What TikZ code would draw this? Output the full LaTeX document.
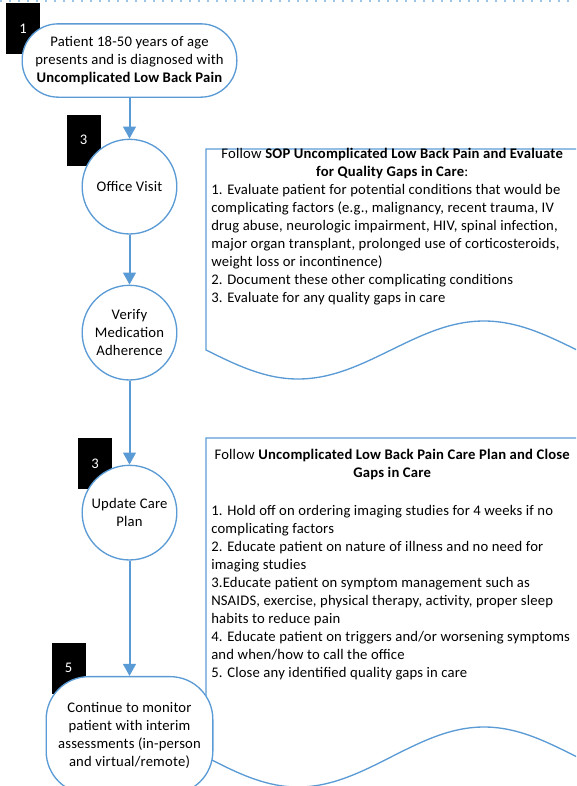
\documentclass[tikz,border=0pt]{standalone}
\usepackage{fontspec}
\setmainfont{Carlito}[LetterSpace=1.3]
\usepackage{tikz}
\usetikzlibrary{positioning,arrows.meta}
\definecolor{m_line}{HTML}{5B9BD5}
\definecolor{m_lane}{HTML}{9DC3E6}

\begin{document}
\begin{tikzpicture}[
    x=0.75pt, y=-0.75pt,
    font=\fontsize{11}{13.5}\selectfont,
    startend/.style={draw=m_line,line width=1pt,fill=white,rounded corners=27pt,
        minimum width=161pt,minimum height=55pt,align=center,inner sep=2pt},
    process/.style={circle,draw=m_line,line width=1pt,fill=white,
        minimum size=71pt,inner sep=0pt,align=center},
    monitor/.style={draw=m_line,line width=1pt,fill=white,rounded corners=32pt,
        minimum width=125pt,minimum height=88pt,align=center,inner sep=2pt},
    tag/.style={fill=black,text=white,minimum width=25.5pt,minimum height=38.25pt,inner sep=0pt},
    note/.style={align=left,inner sep=0pt,anchor=north west},
    docline/.style={draw=m_line,line width=1pt},
    flow/.style={draw=m_line,line width=1.5pt,-{Triangle[length=9pt,width=9.5pt]}}
]
    \useasboundingbox (0,0) rectangle (576,786);
    \clip (0,0) rectangle (576,786);

    % swimlane edge
    \draw[m_lane,line width=0.8pt,dash pattern=on 1.5pt off 5.25pt] (0,1) -- (576,1);

    % step numbers
    \node[tag] (tag1) at (23,28.5) {1};
    \node[tag] (tag3a) at (83.5,140) {3};
    \node[tag] (tag3b) at (95,463.5) {3};
    \node[tag] (tag5) at (68.5,668) {5};

    % document shapes
    \draw[docline] (577,149) -- (206,149) -- (206,350) sin (298,379) cos (391,350) sin (484,321) cos (577,350);
    \draw[docline] (577,438) -- (206,438) -- (206,757) sin (298,787) cos (391,757) sin (484,727) cos (577,757);

    \node[note] (sopnote) at (211,148) {%
        \makebox[271.5pt]{Follow \textbf{SOP Uncomplicated Low Back Pain and Evaluate}}\\
        \makebox[271.5pt]{\textbf{for Quality Gaps in Care}:}\\
        1. Evaluate patient for potential conditions that would be\\
        complicating factors (e.g., malignancy, recent trauma, IV\\
        drug abuse, neurologic impairment, HIV, spinal infection,\\
        major organ transplant, prolonged use of corticosteroids,\\
        weight loss or incontinence)\\
        2. Document these other complicating conditions\\
        3. Evaluate for any quality gaps in care};

    \node[note] (plannote) at (211,449) {%
        \makebox[271.5pt]{Follow \textbf{Uncomplicated Low Back Pain Care Plan and Close}}\\
        \makebox[271.5pt]{\textbf{Gaps in Care}}\\[15pt]
        1. Hold off on ordering imaging studies for 4 weeks if no\\
        complicating factors\\
        2. Educate patient on nature of illness and no need for\\
        imaging studies\\
        3.Educate patient on symptom management such as\\
        NSAIDS, exercise, physical therapy, activity, proper sleep\\
        habits to reduce pain\\
        4. Educate patient on triggers and/or worsening symptoms\\
        and when/how to call the office\\
        5. Close any identified quality gaps in care};

    % flow
    \node[startend] (start) at (129.5,60.5) {Patient 18-50 years of age\\presents and is diagnosed with\\\textbf{Uncomplicated Low Back Pain}};
    \node[process] (office) [below=30.6pt of start] {Office Visit};
    \node[process] (verify) [below=37.5pt of office] {Verify\\Medication\\Adherence};
    \node[process] (update) [below=63pt of verify] {Update Care\\Plan};
    \node[monitor] (monitor) [below=86.5pt of update] {Continue to monitor\\patient with interim\\assessments (in-person\\and virtual/remote)};

    \draw[flow] (start) -- (office);
    \draw[flow] (office) -- (verify);
    \draw[flow] (verify) -- (update);
    \draw[flow] (update) -- (monitor);
\end{tikzpicture}
\end{document}
